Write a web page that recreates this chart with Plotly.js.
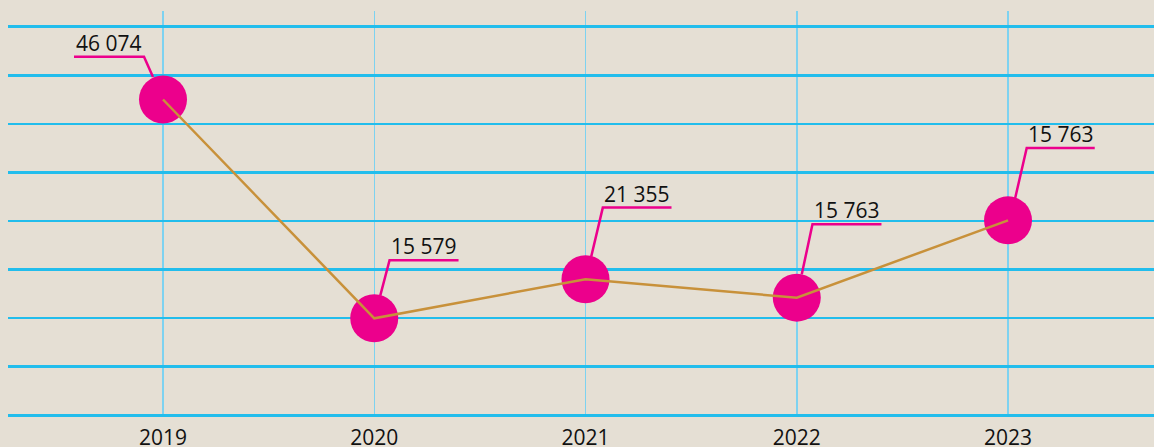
<!DOCTYPE html>
<html>
<head>
<meta charset="utf-8">
<script src="https://cdn.plot.ly/plotly-3.0.1.min.js"></script>
<style>html,body{margin:0;padding:0;background:#e5dfd4;}#chart{width:1154px;height:447px;}</style>
</head>
<body>
<div id="chart"></div>
<script>
// Data
const years = [2019, 2020, 2021, 2022, 2023];
const values = [45510, 13980, 19610, 16950, 28100];
const labelTexts = ['46 074', '15 579', '21 355', '15 763', '15 763'];

// Leader-line geometry per label, in pixels relative to the point (y up):
// [edgeDx, edgeDy, kinkDx, kinkDy, endDx]
const leaderGeom = [
  [-10, 22.5, -19, 42.8, -89],
  [6, 22.6, 15.3, 58, 84.3],
  [5.7, 22.6, 17.3, 71.6, 86],
  [5, 23.4, 15.7, 73.4, 84.7],
  [7, 21.5, 18.7, 72.3, 86.7]
];

const pink = '#ec008c';
const font = 'Open Sans, Noto Sans, sans-serif';

const shapes = [];
const annotations = [];
years.forEach((yr, i) => {
  const g = leaderGeom[i];
  shapes.push({
    type: 'path', xref: 'x', yref: 'y',
    xsizemode: 'pixel', ysizemode: 'pixel',
    xanchor: yr, yanchor: values[i],
    path: `M${g[0]},${g[1]} L${g[2]},${g[3]} L${g[4]},${g[3]}`,
    line: {color: pink, width: 2.5}
  });
  annotations.push({
    x: yr, y: values[i], xref: 'x', yref: 'y',
    text: labelTexts[i], showarrow: false,
    xanchor: 'left', yanchor: 'bottom',
    xshift: Math.min(g[2], g[4]) - 0.5, yshift: g[3] - 2,
    font: {family: font, size: 21, color: '#111'}
  });
});

const traces = [
  {
    x: years, y: values, type: 'scatter', mode: 'markers',
    marker: {color: pink, size: 48}, hoverinfo: 'skip', cliponaxis: false
  },
  {
    x: years, y: values, type: 'scatter', mode: 'lines',
    line: {color: '#c8913a', width: 2.5}, hoverinfo: 'skip'
  }
];

const layout = {
  width: 1154, height: 447,
  margin: {l: 8, r: 0, t: 11, b: 31, pad: 0},
  paper_bgcolor: '#e5dfd4', plot_bgcolor: '#e5dfd4',
  showlegend: false,
  font: {family: font, size: 21, color: '#111'},
  xaxis: {
    range: [2019 - 0.7337, 2019 + 4.691],
    tickvals: years, ticktext: years.map(String),
    showgrid: true, gridcolor: '#7dd2f0', gridwidth: 1.5,
    zeroline: false, showline: false, ticks: '',
    ticklabelstandoff: 7,
    tickfont: {family: font, size: 21, color: '#111'}
  },
  yaxis: {
    range: [-101, 58264], dtick: 7000, tick0: 0,
    showgrid: true, gridcolor: '#22bdec', gridwidth: 2.5,
    zeroline: true, zerolinecolor: '#22bdec', zerolinewidth: 2.5,
    showticklabels: false, ticks: '', showline: false
  },
  shapes: shapes,
  annotations: annotations
};

Plotly.newPlot('chart', traces, layout, {staticPlot: true, displayModeBar: false});
</script>
</body>
</html>
